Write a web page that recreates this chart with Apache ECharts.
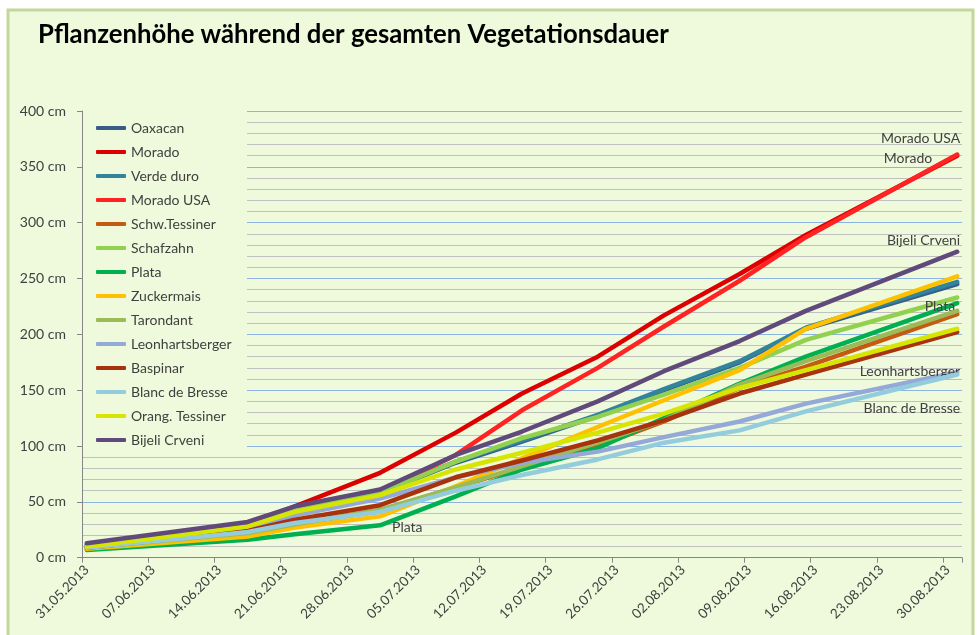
<!DOCTYPE html>
<html>
<head>
<meta charset="utf-8">
<script src="https://cdn.jsdelivr.net/npm/echarts@6/dist/echarts.min.js"></script>
<style>
html,body{margin:0;padding:0;background:#fff;}
#chart{width:977px;height:635px;}
</style>
</head>
<body>
<div id="chart"></div>
<script>
// ---- data ----
const measureDates = ['31.05.2013','17.06.2013','22.06.2013','01.07.2013','09.07.2013','16.07.2013','24.07.2013','31.07.2013','08.08.2013','15.08.2013','31.08.2013'];
const yTickValues = [0, 50, 100, 150, 200, 250, 300, 350, 400];
const unit = 'cm';

const oaxacan        = [11, 29, 42, 58, 85, 104, 127, 150, 175, 205, 245];
const morado         = [10, 30, 46, 76, 112, 147, 180, 217, 254, 289, 360];
const verdeDuro      = [11, 29, 43, 59, 86, 105, 128, 151, 176, 206, 247];
const moradoUSA      = [10, 29, 44, 59, 92, 132, 170, 207, 248, 287, 361];
const schwTessiner   = [9, 21, 30, 42, 63, 81, 100, 122, 152, 171, 218];
const schafzahn      = [10, 28, 42, 58, 86, 107, 126, 146, 170, 195, 233];
const plata          = [7, 16, 21, 29, 55, 79, 98, 125, 156, 180, 228];
const zuckermais     = [8, 19, 27, 37, 64, 89, 117, 141, 168, 205, 252];
const tarondant      = [9, 22, 30, 43, 63, 82, 103, 123, 155, 176, 221];
const leonhartsberger= [10, 25, 38, 53, 72, 85, 95, 108, 122, 138, 166];
const baspinar       = [9, 24, 34, 47, 72, 87, 105, 123, 147, 164, 202];
const blancDeBresse  = [9, 23, 31, 41, 60, 74, 88, 103, 114, 131, 164];
const orangTessiner  = [10, 28, 41, 56, 79, 94, 112, 129, 152, 168, 205];
const bijeliCrveni   = [13, 32, 46, 61, 92, 113, 140, 167, 194, 221, 274];

const seriesNames = ['Oaxacan','Morado','Verde duro','Morado USA','Schw.Tessiner','Schafzahn','Plata','Zuckermais','Tarondant','Leonhartsberger','Baspinar','Blanc de Bresse','Orang. Tessiner','Bijeli Crveni'];
const seriesValues = [oaxacan, morado, verdeDuro, moradoUSA, schwTessiner, schafzahn, plata, zuckermais, tarondant, leonhartsberger, baspinar, blancDeBresse, orangTessiner, bijeliCrveni];

// ---- styles ----
const colors = ['#385D8A','#DC0000','#31849B','#FF2323','#C55A11','#92D050','#00B050','#FFC000','#9BBB59','#95A9D8','#A8320E','#93CDDD','#D7E600','#604A7B'];
// which point gets a series-name label, and where (style only)
const labelSpec = {
  'Morado USA':      [{idx: 10, dx: 3,   dy: -16, align: 'right'}],
  'Morado':          [{idx: 10, dx: -25, dy: 3,   align: 'right'}],
  'Bijeli Crveni':   [{idx: 10, dx: 3,   dy: -11, align: 'right'}],
  'Plata':           [{idx: 10, dx: -2,  dy: 3,   align: 'right'}, {idx: 3, dx: 12, dy: 2, align: 'left'}],
  'Leonhartsberger': [{idx: 10, dx: 3,   dy: -1,  align: 'right'}],
  'Blanc de Bresse': [{idx: 10, dx: 3,   dy: 34,  align: 'right'}]
};

// ---- category days (one per calendar day) ----
function fmt(d){
  const dd = String(d.getUTCDate()).padStart(2,'0');
  const mm = String(d.getUTCMonth()+1).padStart(2,'0');
  return dd + '.' + mm + '.' + d.getUTCFullYear();
}
function parse(s){ const p = s.split('.'); return Date.UTC(+p[2], +p[1]-1, +p[0]); }
const startT = parse(measureDates[0]);
const endT = parse(measureDates[measureDates.length-1]);
const days = [];
for (let t = startT; t <= endT; t += 86400000) days.push(fmt(new Date(t)));

const FONT = 'Lato';
const TXT = '#404040';

const series = seriesNames.map((name, si) => {
  const spec = labelSpec[name] || [];
  const data = seriesValues[si].map((v, i) => {
    const s = spec.find(o => o.idx === i);
    if (!s) return [measureDates[i], v];
    return {
      value: [measureDates[i], v],
      symbol: 'circle',
      symbolSize: 0.1,
      label: {
        show: true,
        formatter: '{a}',
        position: [s.dx, s.dy],
        align: s.align,
        verticalAlign: 'middle',
        fontFamily: FONT,
        fontSize: 14,
        color: TXT
      }
    };
  });
  return {
    name: name,
    type: 'line',
    data: data,
    showSymbol: true,
    symbol: 'none',
    color: colors[si],
    lineStyle: { width: 4.5, color: colors[si], cap: 'round', join: 'round' },
    label: { show: false },
    emphasis: { disabled: true },
    animation: false,
    z: 2 + si * 0.01
  };
});

const chart = echarts.init(document.getElementById('chart'), null, {renderer: 'canvas'});
chart.setOption({
  backgroundColor: '#ffffff',
  animation: false,
  graphic: [
    { type: 'rect', z: -100, silent: true,
      shape: { x: 8, y: 10, width: 965, height: 640 },
      style: { fill: '#EFFADC', stroke: '#C4D79B', lineWidth: 3 } },
    { type: 'rect', z: 1, silent: true,
      shape: { x: 83, y: 108, width: 164, height: 344 },
      style: { fill: '#EFFADC' } }
  ],
  title: {
    text: 'Pflanzenhöhe während der gesamten Vegetationsdauer',
    left: 38, top: 22, padding: 0,
    textStyle: { fontFamily: FONT, fontWeight: 'bold', fontSize: 25.7, color: '#000000' }
  },
  legend: {
    orient: 'vertical',
    left: 96, top: 120, padding: 0,
    itemWidth: 30, itemHeight: 4, itemGap: 8,
    icon: 'roundRect',
    data: seriesNames,
    textStyle: { fontFamily: FONT, fontSize: 14, color: TXT, lineHeight: 16 },
    selectedMode: false,
    z: 5
  },
  grid: { left: 82, right: 15, top: 111, bottom: 77.3, containLabel: false },
  xAxis: {
    type: 'category',
    data: days,
    boundaryGap: true,
    axisLine: { lineStyle: { color: '#868686', width: 1 } },
    axisTick: { show: true, interval: 6, length: 5, lineStyle: { color: '#868686' } },
    axisLabel: { interval: 6, rotate: 45, fontFamily: FONT, fontSize: 13.5, color: TXT, margin: 10 },
    splitLine: { show: false }
  },
  yAxis: {
    type: 'value',
    min: yTickValues[0],
    max: yTickValues[yTickValues.length-1],
    interval: yTickValues[1] - yTickValues[0],
    axisLine: { show: true, lineStyle: { color: '#868686', width: 1 } },
    axisTick: { show: true, length: 5, lineStyle: { color: '#868686' } },
    axisLabel: { formatter: '{value} ' + unit, fontFamily: FONT, fontSize: 14, color: TXT, margin: 16 },
    splitLine: { show: true, lineStyle: { color: '#8DB3E2', width: 1 } },
    minorTick: { show: false, splitNumber: 5 },
    minorSplitLine: { show: true, lineStyle: { color: '#C0C0C0', width: 1 } }
  },
  series: series
});
</script>
</body>
</html>
